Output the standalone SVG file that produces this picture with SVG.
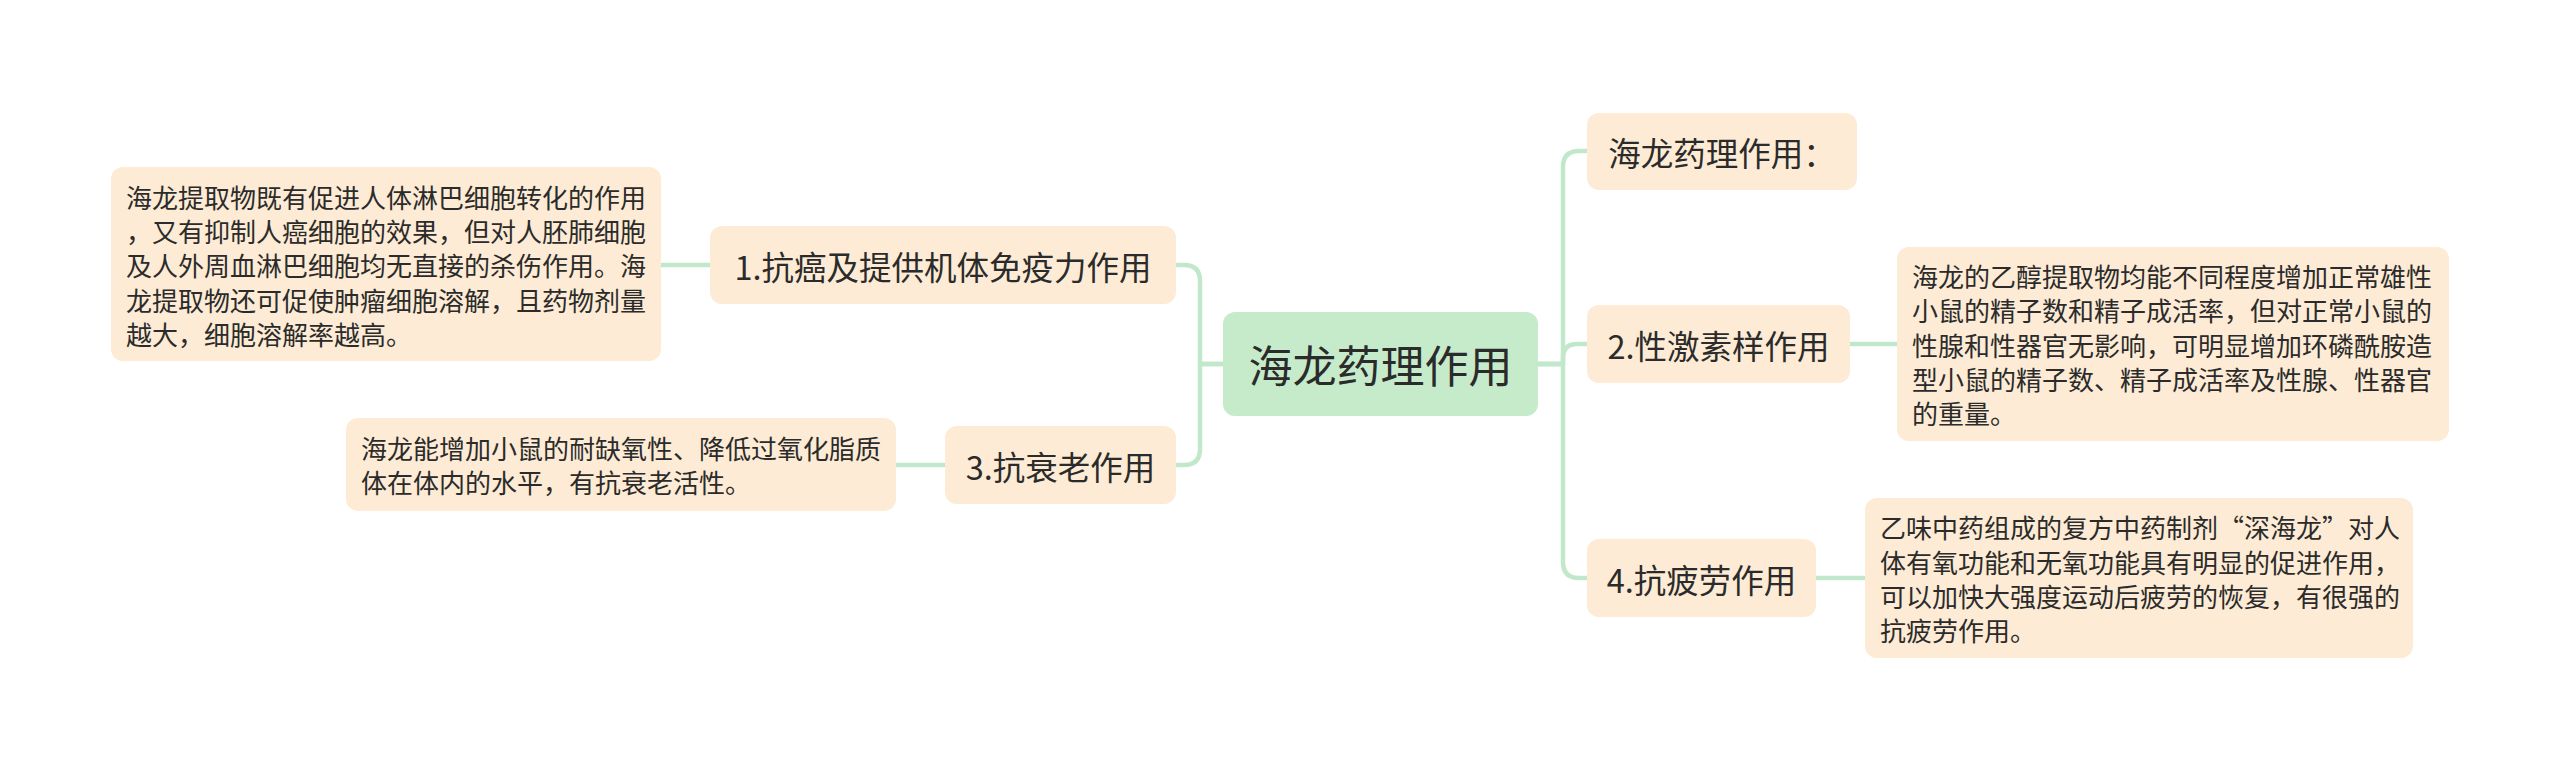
<svg xmlns="http://www.w3.org/2000/svg" width="2560" height="770" viewBox="0 0 2560 770">
<style>
.bg{fill:#ffffff}
.root{fill:#c6ebcb}
.node{fill:#fdebd5}
.t{font-family:"Noto Sans CJK SC","Noto Sans",sans-serif;fill:#2b2b2b}
.rt{font-size:44px;text-anchor:middle;dominant-baseline:central}
.nt{font-size:32.5px;text-anchor:middle;dominant-baseline:central}
.dt{font-size:26px;dominant-baseline:central}
.c{fill:none;stroke:#c2e8cb;stroke-width:4.5;stroke-linecap:round;stroke-linejoin:round}
</style>
<rect class="bg" x="0" y="0" width="2560" height="770"/>
<g id="connectors">
<path class="c" d="M1224 364 H1200 V281 Q1200 265 1184 265 H1176"/>
<path class="c" d="M1224 364 H1200 V449 Q1200 465 1184 465 H1176"/>
<path class="c" d="M1538 364 H1563 V167 Q1563 151 1579 151 H1587"/>
<path class="c" d="M1538 364 H1563 V358 Q1563 344 1577 344 H1587"/>
<path class="c" d="M1538 364 H1563 V562 Q1563 578 1579 578 H1587"/>
<path class="c" d="M710 265 H661"/>
<path class="c" d="M945 465 H896"/>
<path class="c" d="M1850 344 H1897"/>
<path class="c" d="M1816 578 H1865"/>
</g>
<g id="root">
<rect class="root" x="1223" y="312" width="315" height="104" rx="12"/>
<text class="t rt" x="1380.5" y="364">海龙药理作用</text>
</g>
<g id="n1">
<rect class="node" x="710" y="226" width="466" height="78" rx="12"/>
<text class="t nt" x="943" y="265">1.抗癌及提供机体免疫力作用</text>
</g>
<g id="d1">
<rect class="node" x="111" y="167" width="550" height="194" rx="12"/>
<text class="t dt" x="126" y="196">海龙提取物既有促进人体淋巴细胞转化的作用</text>
<text class="t dt" x="126" y="230">，又有抑制人癌细胞的效果，但对人胚肺细胞</text>
<text class="t dt" x="126" y="264.5">及人外周血淋巴细胞均无直接的杀伤作用。海</text>
<text class="t dt" x="126" y="299">龙提取物还可促使肿瘤细胞溶解，且药物剂量</text>
<text class="t dt" x="126" y="333">越大，细胞溶解率越高。</text>
</g>
<g id="n3">
<rect class="node" x="945" y="426" width="231" height="78" rx="12"/>
<text class="t nt" x="1060.5" y="465">3.抗衰老作用</text>
</g>
<g id="d3">
<rect class="node" x="346" y="418" width="550" height="93" rx="12"/>
<text class="t dt" x="361" y="447.5">海龙能增加小鼠的耐缺氧性、降低过氧化脂质</text>
<text class="t dt" x="361" y="481.5">体在体内的水平，有抗衰老活性。</text>
</g>
<g id="n0">
<rect class="node" x="1587" y="113" width="270" height="77" rx="12"/>
<text class="t nt" x="1722" y="151.5">海龙药理作用：</text>
</g>
<g id="n2">
<rect class="node" x="1587" y="305" width="263" height="78" rx="12"/>
<text class="t nt" x="1718.5" y="344">2.性激素样作用</text>
</g>
<g id="d2">
<rect class="node" x="1897" y="247" width="552" height="194" rx="12"/>
<text class="t dt" x="1912" y="275.5">海龙的乙醇提取物均能不同程度增加正常雄性</text>
<text class="t dt" x="1912" y="309.5">小鼠的精子数和精子成活率，但对正常小鼠的</text>
<text class="t dt" x="1912" y="344">性腺和性器官无影响，可明显增加环磷酰胺造</text>
<text class="t dt" x="1912" y="378.5">型小鼠的精子数、精子成活率及性腺、性器官</text>
<text class="t dt" x="1912" y="412.5">的重量。</text>
</g>
<g id="n4">
<rect class="node" x="1587" y="539" width="229" height="78" rx="12"/>
<text class="t nt" x="1701.5" y="578">4.抗疲劳作用</text>
</g>
<g id="d4">
<rect class="node" x="1865" y="498" width="548" height="160" rx="12"/>
<text class="t dt" x="1880" y="526.5">乙味中药组成的复方中药制剂“深海龙”对人</text>
<text class="t dt" x="1880" y="561">体有氧功能和无氧功能具有明显的促进作用，</text>
<text class="t dt" x="1880" y="595">可以加快大强度运动后疲劳的恢复，有很强的</text>
<text class="t dt" x="1880" y="629.5">抗疲劳作用。</text>
</g>
</svg>
